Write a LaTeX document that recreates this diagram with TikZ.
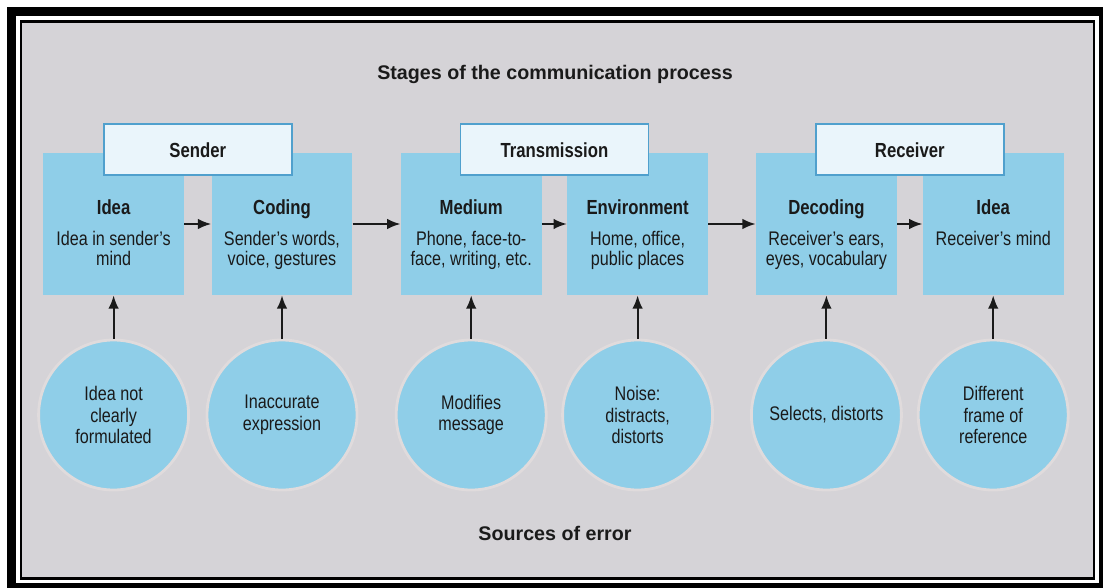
\documentclass[tikz,border=0pt]{standalone}
\usepackage{fontspec}
\setmainfont{Liberation Sans}[FakeStretch=0.82]
\newfontfamily\titlefont{Liberation Sans}
\usetikzlibrary{arrows.meta, positioning, calc}
\definecolor{bggray}{RGB}{213, 211, 215}
\definecolor{stageblue}{RGB}{143, 206, 232}
\definecolor{headfill}{RGB}{234, 245, 251}
\definecolor{headline}{RGB}{80, 160, 205}
\definecolor{halo}{RGB}{224, 219, 220}
\definecolor{inkblack}{RGB}{26, 26, 26}

\begin{document}
\begin{tikzpicture}[
  stagebox/.style={fill=stageblue, minimum width=3.52cm, minimum height=3.55cm, inner sep=0pt},
  grouphead/.style={draw=headline, line width=1.2pt, fill=headfill, minimum width=4.7cm, minimum height=1.28cm, font=\fontsize{14.5}{16}\selectfont\bfseries, text=inkblack},
  stagehead/.style={font=\fontsize{14.5}{16}\selectfont\bfseries, inner sep=0pt, text height=10pt, text depth=3pt, text=inkblack},
  stagetext/.style={font=\fontsize{14}{14.5}\selectfont, align=center, inner sep=0pt, text=inkblack},
  errcircle/.style={circle, fill=stageblue, draw=halo, line width=2pt, minimum size=3.75cm, inner sep=0pt, align=center, font=\fontsize{14}{15.5}\selectfont, text=inkblack},
  flow/.style={-{Latex[length=9.5pt, width=7.5pt]}, line width=1.5pt, draw=inkblack},
  caption/.style={font=\titlefont\bfseries\fontsize{14}{16}\selectfont, text=inkblack},
]
  \useasboundingbox[fill=white] (0,0) rectangle (27.575,-14.7);

  % frame
  \draw[black, line width=6.4pt] (0.29,-0.3) rectangle (27.575,-14.69);
  \draw[black, line width=1.8pt, fill=bggray] (0.525,-0.54) rectangle (27.35,-14.46);

  % titles
  \node[caption] (title) at (13.875,-1.85) {Stages of the communication process};
  \node[caption] (errors) at (13.875,-13.325) {Sources of error};

  % stages
  \node[stagebox] (idea1) at (2.84,-5.6) {};
  \node[stagebox] (coding) at (7.05,-5.6) {};
  \node[stagebox] (medium) at (11.78,-5.6) {};
  \node[stagebox] (environ) at (15.94,-5.6) {};
  \node[stagebox] (decoding) at (20.66,-5.6) {};
  \node[stagebox] (idea2) at (24.83,-5.6) {};

  \node[stagehead] (idea1h) at ([yshift=-1.42cm]idea1.north) {Idea};
  \node[stagetext, below=8.5pt of idea1h] {Idea in sender's\\mind};
  \node[stagehead] (codingh) at ([yshift=-1.42cm]coding.north) {Coding};
  \node[stagetext, below=8.5pt of codingh] {Sender's words,\\voice, gestures};
  \node[stagehead] (mediumh) at ([yshift=-1.42cm]medium.north) {Medium};
  \node[stagetext, below=8.5pt of mediumh] {Phone, face-to-\\face, writing, etc.};
  \node[stagehead] (environh) at ([yshift=-1.42cm]environ.north) {Environment};
  \node[stagetext, below=8.5pt of environh] {Home, office,\\public places};
  \node[stagehead] (decodingh) at ([yshift=-1.42cm]decoding.north) {Decoding};
  \node[stagetext, below=8.5pt of decodingh] {Receiver's ears,\\eyes, vocabulary};
  \node[stagehead] (idea2h) at ([yshift=-1.42cm]idea2.north) {Idea};
  \node[stagetext, below=8.5pt of idea2h] {Receiver's mind};

  % group headers
  \node[grouphead] (sender) at ($(idea1.north)!0.5!(coding.north)+(0,0.075)$) {Sender};
  \node[grouphead] (transmission) at ($(medium.north)!0.5!(environ.north)+(0,0.075)$) {Transmission};
  \node[grouphead] (receiver) at ($(decoding.north)!0.5!(idea2.north)+(0,0.075)$) {Receiver};

  % sources of error
  \node[errcircle] (err1) at (2.84,-10.375) {Idea not\\clearly\\formulated};
  \node[errcircle] (err2) at (7.05,-10.375) {Inaccurate\\expression};
  \node[errcircle] (err3) at (11.78,-10.375) {Modifies\\message};
  \node[errcircle] (err4) at (15.94,-10.375) {Noise:\\distracts,\\distorts};
  \node[errcircle] (err5) at (20.66,-10.375) {Selects, distorts};
  \node[errcircle] (err6) at (24.83,-10.375) {Different\\frame of\\reference};

  \draw[flow] (idea1) -- (coding);
  \draw[flow] (coding) -- (medium);
  \draw[flow] (medium) -- (environ);
  \draw[flow] (environ) -- (decoding);
  \draw[flow] (decoding) -- (idea2);

  \draw[flow] (err1) -- (idea1);
  \draw[flow] (err2) -- (coding);
  \draw[flow] (err3) -- (medium);
  \draw[flow] (err4) -- (environ);
  \draw[flow] (err5) -- (decoding);
  \draw[flow] (err6) -- (idea2);
\end{tikzpicture}
\end{document}
